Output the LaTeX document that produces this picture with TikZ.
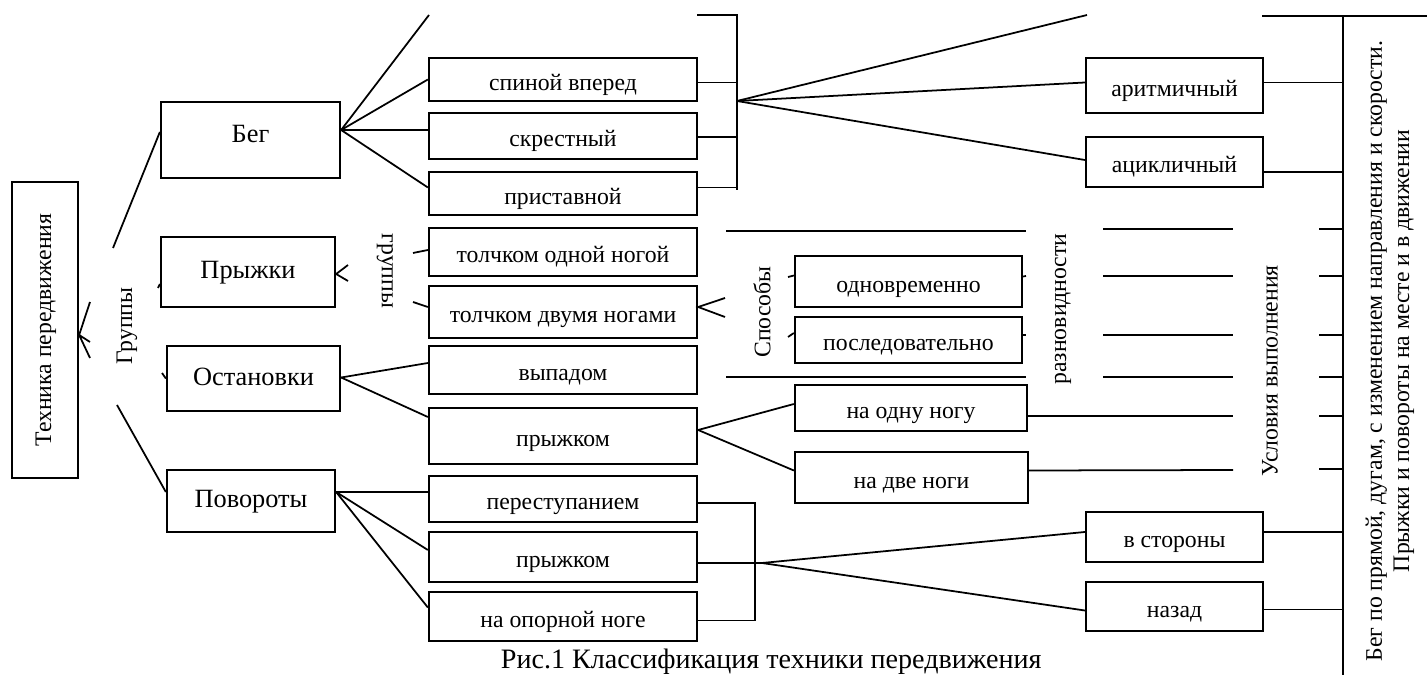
\documentclass[tikz,border=0pt]{standalone}
\usepackage{fontspec}
\setmainfont{Liberation Serif}
\usetikzlibrary{calc}

\begin{document}
\begin{tikzpicture}[
  x=0.02cm, y=-0.02cm,
  font=\fontsize{13.5}{15.5}\selectfont,
  line width=1pt,
  box/.style={draw, line width=1.3pt, inner sep=0pt, text height=12.5pt, text depth=0.5pt},
  sz/.style 2 args={minimum width=#1*0.02cm, minimum height=#2*0.02cm},
  gbox/.style={box, font=\fontsize{15}{17}\selectfont, text height=10.5pt, text depth=3pt},
  vtext/.style={rotate=90, inner sep=0pt}
]
\useasboundingbox (0,0) rectangle (1427,675);

% Root
\node[box, rotate=90, sz={296}{66}, text height=9pt, text depth=2pt] (root) at (45,330) {Техника передвижения};
\node[vtext] (grp) at (127,326) {Группы};

% Groups
\node[gbox, sz={179}{76}, text depth=8pt] (beg) at (250.5,140) {Бег};
\node[gbox, sz={174}{70}] (prg) at (248,272) {Прыжки};
\node[gbox, sz={173}{65}] (ost) at (253.5,378.5) {Остановки};
\node[gbox, sz={168}{62}] (pov) at (251,501) {Повороты};

% Second column
\node[box, sz={268}{43}] (spin) at (563,79.5) {спиной вперед};
\node[box, sz={268}{46}] (skr) at (563,136) {скрестный};
\node[box, sz={268}{43}] (pri) at (563,193.5) {приставной};
\node[box, sz={268}{48}] (tod) at (563,252) {толчком одной ногой};
\node[box, sz={268}{52}] (tdv) at (563,312) {толчком двумя ногами};
\node[box, sz={268}{48}] (vyp) at (563,370) {выпадом};
\node[box, sz={268}{56}] (prA) at (563,436) {прыжком};
\node[box, sz={268}{46}] (per) at (563,499) {переступанием};
\node[box, sz={268}{50}] (prB) at (563,557) {прыжком};
\node[box, sz={268}{49}] (opo) at (563,616.5) {на опорной ноге};
\node[vtext, rotate=180] (grp2) at (385,271) {группы};

% Third column
\node[box, sz={227}{51}] (odn) at (908.5,281.5) {одновременно};
\node[box, sz={227}{46}] (pos) at (908.5,340) {последовательно};
\node[box, sz={232}{46}] (one) at (911,408) {на одну ногу};
\node[box, sz={233}{51}] (two) at (911.5,477.5) {на две ноги};
\node[vtext] (spos) at (762,312) {Способы};
\node[vtext] (raz) at (1063,309) {разновидности};

% Fourth column
\node[box, sz={177}{55}] (arit) at (1174.5,85.5) {аритмичный};
\node[box, sz={177}{50}] (acik) at (1174.5,162) {ацикличный};
\node[box, sz={177}{50}] (side) at (1174.5,537) {в стороны};
\node[box, sz={177}{49}] (back) at (1174.5,606.5) {назад};
\node[vtext] (usl) at (1270,371) {Условия выполнения};
\node[vtext, align=center] (cond) at (1390,351)
  {Бег по прямой, дугам, с изменением направления и скорости.\\Прыжки и повороты на месте и в движении};

% Root fork
\coordinate (fk) at ($(root.south)+(0,5)$);
\coordinate (fk1) at (90,302);
\coordinate (fk2) at (90,342);
\coordinate (fk3) at (90,358);
\draw (fk) -- (fk1) (fk) -- (fk2) (fk) -- (fk3);

% Root to groups
\coordinate (g1) at (113,248);
\coordinate (g2) at (158,288);
\coordinate (g3) at (162,373);
\coordinate (g4) at (117,405);
\draw (g1) -- ($(beg.west)+(0,-8)$);
\draw (g2) -- ($(prg.west)+(0,12)$);
\draw (g3) -- (ost.west);
\draw (g4) -- ($(pov.west)+(0,-9)$);

% Beg fan
\coordinate (bg) at ($(beg.east)+(0,-10)$);
\coordinate (bgtop) at (429,15);
\draw (bg) -- (bgtop);
\draw (bg) -- (spin.west);
\draw (bg) -- ($(skr.west)+(0,-6)$);
\draw (bg) -- ($(pri.west)+(0,-6)$);

% Beg bracket
\coordinate (bt) at (697,15);
\coordinate (br1) at (737,101);
\draw (bt) -- (bt -| br1) -- ($(pri.east -| br1)+(0,-3)$);
\draw ($(spin.east)+(0,3)$) -- ($(spin.east -| br1)+(0,3)$);
\draw ($(skr.east)+(0,1)$) -- ($(skr.east -| br1)+(0,1)$);
\draw ($(pri.east)+(0,-6)$) -- ($(pri.east -| br1)+(0,-6)$);

% Beg kinds
\coordinate (ktop) at (1087,15);
\draw (br1) -- (ktop);
\draw (br1) -- ($(arit.west)+(0,-3)$);
\draw (br1) -- ($(acik.west)+(0,-2)$);

% Main vertical line
\coordinate (mtop) at (1343,16);
\coordinate (mbot) at (1343,675);
\coordinate (rtop) at (1262,16);
\coordinate (redge) at (1427,16);
\draw (mtop) -- (mbot);
\draw (rtop) -- (redge);
\draw ($(arit.east)+(0,-3)$) -- ($(arit.east -| mtop)+(0,-3)$);
\draw ($(acik.east)+(0,10)$) -- ($(acik.east -| mtop)+(0,10)$);
\draw ($(side.east)+(0,-5)$) -- ($(side.east -| mtop)+(0,-5)$);
\draw ($(back.east)+(0,3)$) -- ($(back.east -| mtop)+(0,3)$);

% Ticks and conditions lines
\foreach \yy [count=\i] in {229,276,335,377,416,469} {
  \coordinate (ta\i) at (1319,\yy);
  \draw (ta\i) -- (ta\i -| mtop);
}
\foreach \yy [count=\i] in {229,276,335,377} {
  \coordinate (la\i) at (1103,\yy);
  \coordinate (lb\i) at (1233,\yy);
  \draw (la\i) -- (lb\i);
}
\coordinate (lb5) at (1233,416);
\coordinate (lb6) at (1233,470);
\draw ($(one.east)+(0,8)$) -- (lb5);
\draw ($(two.east)+(0,-7)$) -- (lb6);

% Sposoby frame
\coordinate (sa) at (726,231);
\coordinate (sb) at (1026,231);
\coordinate (sc) at (726,377);
\coordinate (sd) at (1026,377);
\draw (sa) -- (sb);
\draw (sc) -- (sd);
\coordinate (t1) at (788,277);
\coordinate (t2) at (788,337);
\coordinate (t3) at (1026,276);
\coordinate (t4) at (1026,335);
\draw (t1) -- ($(odn.west)+(0,-6)$);
\draw (t2) -- ($(pos.west)+(0,-7)$);
\draw ($(odn.east)+(0,-5)$) -- (t3);
\draw ($(pos.east)+(0,-5)$) -- (t4);

% Prygki forks
\coordinate (pf) at ($(prg.east)+(0,2)$);
\coordinate (pf1) at (348,265);
\coordinate (pf2) at (348,281);
\draw (pf1) -- (pf) -- (pf2);
\coordinate (gr1) at (413,253);
\coordinate (gr2) at (413,302);
\draw (gr1) -- ($(tod.west)+(0,-2)$);
\draw (gr2) -- ($(tdv.west)+(0,-5)$);
\coordinate (tf1) at (725,298);
\coordinate (tf2) at (725,317);
\draw (tf1) -- ($(tdv.east)+(0,-5)$) -- (tf2);

% Ostanovki
\coordinate (os) at ($(ost.east)+(0,-1)$);
\draw (os) -- ($(vyp.west)+(0,-7)$);
\draw (os) -- ($(prA.west)+(0,-19)$);
\coordinate (pa) at ($(prA.east)+(0,-6)$);
\draw (pa) -- ($(one.west)+(0,-4)$);
\draw (pa) -- ($(two.west)+(0,-7)$);

% Povoroty
\coordinate (pv) at ($(pov.east)+(0,-9)$);
\draw (pv) -- ($(per.west)+(0,-7)$);
\draw (pv) -- ($(prB.west)+(0,-7)$);
\draw (pv) -- ($(opo.west)+(0,-9)$);
\coordinate (br2) at (755,563);
\coordinate (br2v) at (762,563);
\draw ($(per.east)+(0,4)$) -- ($(per.east -| br2)+(0,4)$) -- ($(opo.east -| br2)+(0,4)$) -- ($(opo.east)+(0,4)$);
\draw ($(prB.east)+(0,6)$) -- (br2v);
\draw (br2v) -- ($(side.west)+(0,-5)$);
\draw (br2v) -- ($(back.west)+(0,4)$);

% Caption
\node[anchor=base west, inner sep=0pt, font=\fontsize{16}{18}\selectfont] (cap) at (500,668) {Рис.1 Классификация техники передвижения};

\end{tikzpicture}
\end{document}
